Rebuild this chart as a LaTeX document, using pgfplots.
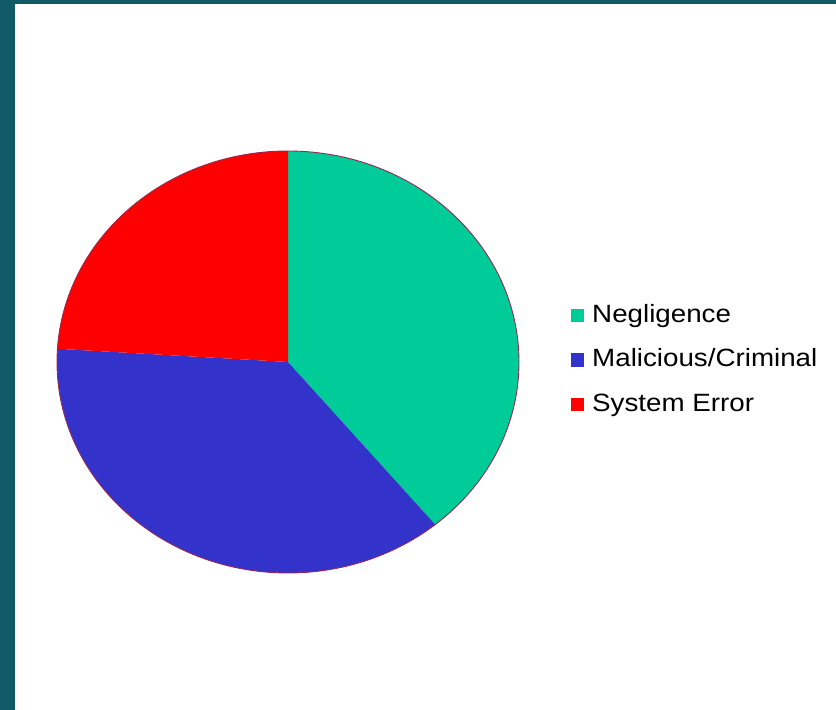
\documentclass[border=0pt]{standalone}
\usepackage{pgfplots}
\pgfplotsset{compat=1.18}
\usepackage{pgfplotstable}
\usepackage{fontspec}
\setmainfont{Liberation Sans}
\newfontfamily\legfont[FakeStretch=1.11]{Liberation Sans}
\definecolor{frame}{RGB}{17,91,104}
\definecolor{cneg}{RGB}{0,204,153}
\definecolor{cmal}{RGB}{51,51,204}
\definecolor{csys}{RGB}{255,0,0}
\definecolor{cedge}{RGB}{150,40,80}
\pgfplotstableread{
label value
Negligence 39
Malicious 37
System 24
}\piedata
\begin{document}
\begin{tikzpicture}[x=1bp,y=1bp]
\fill[frame] (0,0) rectangle (836,710);
\fill[white] (15,0) rectangle (836,706);
\pgfplotstablegetelem{0}{value}\of\piedata \let\va\pgfplotsretval
\pgfplotstablegetelem{1}{value}\of\piedata \let\vb\pgfplotsretval
\pgfplotstablegetelem{2}{value}\of\piedata \let\vc\pgfplotsretval
\pgfmathsetmacro{\tot}{\va+\vb+\vc}
\pgfmathsetmacro{\aB}{90-360*\va/\tot}
\pgfmathsetmacro{\aC}{\aB-360*\vb/\tot}
\pgfmathsetmacro{\aD}{\aC-360*\vc/\tot}
\pgfmathsetmacro{\xB}{cos(\aB)}\pgfmathsetmacro{\yB}{sin(\aB)}
\pgfmathsetmacro{\xC}{cos(\aC)}\pgfmathsetmacro{\yC}{sin(\aC)}
\begin{axis}[at={(57bp,137bp)}, anchor=south west, scale only axis,
  width=462bp, height=422bp, xmin=-1, xmax=1, ymin=-1, ymax=1,
  hide axis, clip=false,
  legend cell align=left,
  legend style={at={(1.1126,0.6374)}, anchor=north west, draw=none, fill=none,
    inner sep=0pt, row sep=20.5bp, column sep=0pt,
    font=\legfont\fontsize{25bp}{28bp}\selectfont,
    nodes={inner sep=0pt, text height=18bp, text depth=6bp}},
  legend image code/.code={\fill[#1] (0bp,-6bp) rectangle (13bp,7.5bp);
     \path (21bp,0bp);}]
\addlegendimage{fill=cneg, draw=none}
\addlegendentry{Negligence}
\addlegendimage{fill=cmal, draw=none}
\addlegendentry{Malicious/Criminal}
\addlegendimage{fill=csys, draw=none}
\addlegendentry{System Error}
\fill[cneg] (axis cs:0,0) -- (axis cs:0,1) arc[start angle=90, end angle=\aB, x radius=231bp, y radius=211bp] -- cycle;
\fill[cmal] (axis cs:0,0) -- (axis cs:\xB,\yB) arc[start angle=\aB, end angle=\aC, x radius=231bp, y radius=211bp] -- cycle;
\fill[csys] (axis cs:0,0) -- (axis cs:\xC,\yC) arc[start angle=\aC, end angle=\aD, x radius=231bp, y radius=211bp] -- cycle;
\draw[cedge, line width=0.9bp] (axis cs:0,0) ellipse [x radius=231bp, y radius=211bp];
\end{axis}
\end{tikzpicture}
\end{document}
